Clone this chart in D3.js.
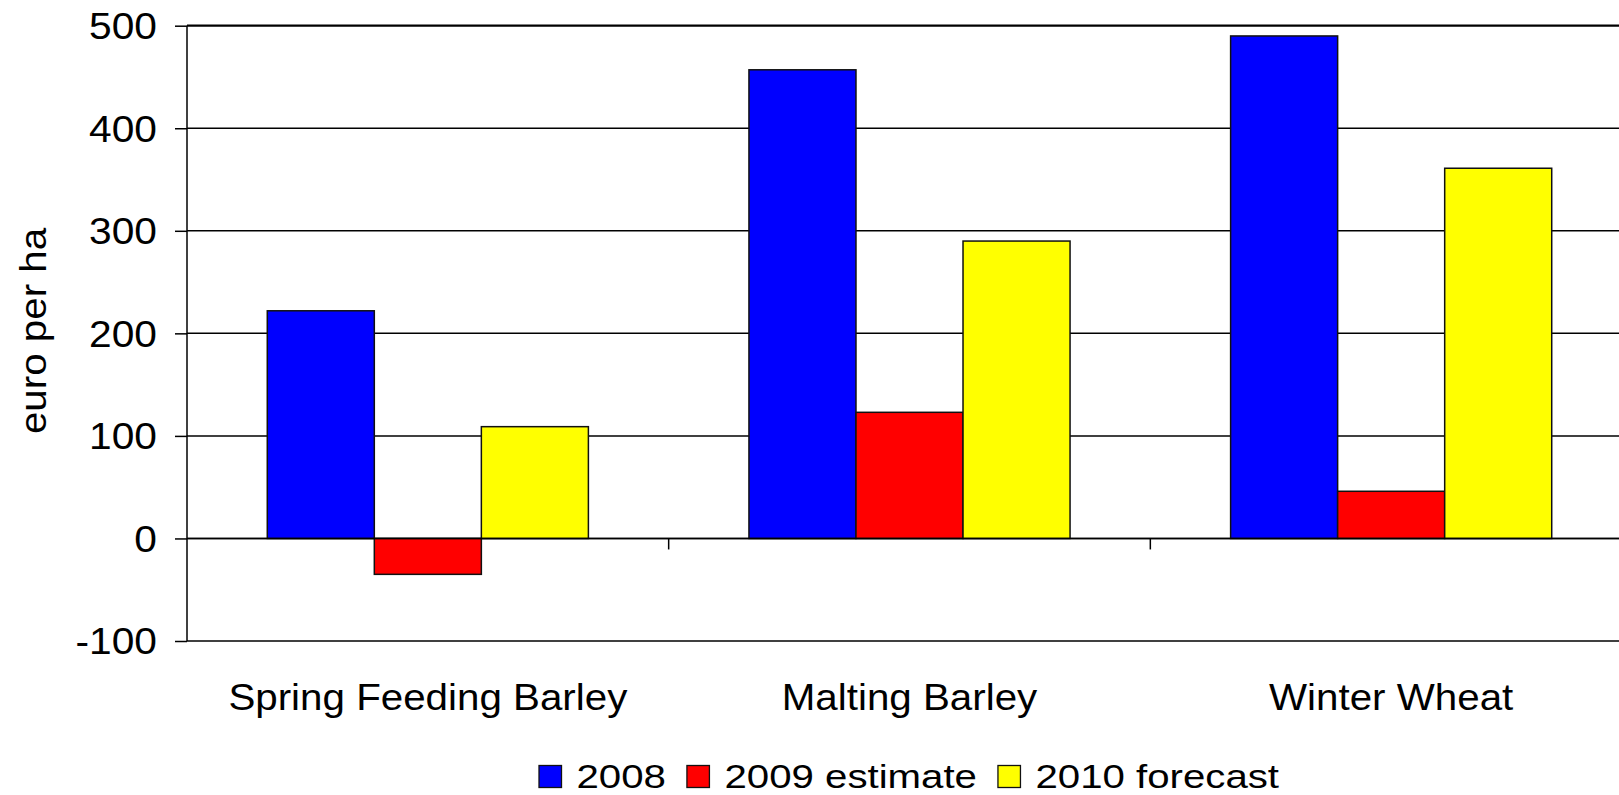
<!DOCTYPE html>
<html>
<head>
<meta charset="utf-8">
<script src="https://cdn.jsdelivr.net/npm/d3@7"></script>
<style>
  html, body { margin: 0; padding: 0; background: #fff; }
  svg { display: block; font-family: "Liberation Sans", Arial, sans-serif; }
</style>
</head>
<body>
<svg id="chart" width="1619" height="795"></svg>
<script>
// Gross margins by crop, euro per hectare
const categories = ["Spring Feeding Barley", "Malting Barley", "Winter Wheat"];
const seriesNames = ["2008", "2009 estimate", "2010 forecast"];
const values2008 = [222, 457, 490];
const values2009 = [-35, 123, 46];
const values2010 = [109, 290, 361];
const yTicks = [-100, 0, 100, 200, 300, 400, 500];
const seriesColors = ["#0000ff", "#ff0000", "#ffff00"];

const seriesValues = [values2008, values2009, values2010];

(function draw() {
  const svg = d3.select("#chart");
  const W = 1619;

  // plot area (right edge runs past the canvas)
  const plotLeft = 187, plotRight = 1632, plotTop = 25.7, plotBottom = 641;

  const x = d3.scaleBand()
    .domain(categories)
    .range([plotLeft, plotRight])
    .paddingInner(1 / 3)
    .paddingOuter(1 / 6);

  const xs = d3.scaleBand()
    .domain(seriesNames)
    .range([0, x.bandwidth()])
    .padding(0);

  const y = d3.scaleLinear().domain([-100, 500]).range([plotBottom, plotTop]);

  // horizontal gridlines
  svg.append("g").selectAll("line")
    .data(yTicks)
    .join("line")
    .attr("x1", plotLeft).attr("x2", W)
    .attr("y1", d => y(d)).attr("y2", d => y(d))
    .attr("stroke", "#000")
    .attr("stroke-width", d => d === 500 ? 2.2 : 1.5);

  // bars
  const rows = categories.map((c, i) => ({
    category: c,
    items: seriesNames.map((s, j) => ({ series: s, value: seriesValues[j][i], color: seriesColors[j] }))
  }));

  svg.append("g").selectAll("g")
    .data(rows)
    .join("g")
    .attr("transform", d => `translate(${x(d.category)},0)`)
    .selectAll("rect")
    .data(d => d.items)
    .join("rect")
    .attr("x", d => xs(d.series))
    .attr("width", xs.bandwidth())
    .attr("y", d => y(Math.max(0, d.value)))
    .attr("height", d => Math.abs(y(d.value) - y(0)))
    .attr("fill", d => d.color)
    .attr("stroke", "#111")
    .attr("stroke-width", 1.5);

  // category axis on the zero line, ticks between categories
  const xAxis = svg.append("g");
  xAxis.append("line")
    .attr("x1", plotLeft).attr("x2", W)
    .attr("y1", y(0)).attr("y2", y(0))
    .attr("stroke", "#000").attr("stroke-width", 1.5);
  const gapHalf = (x.step() - x.bandwidth()) / 2;
  xAxis.selectAll("line.tick")
    .data(categories.slice(1))
    .join("line")
    .attr("class", "tick")
    .attr("x1", c => x(c) - gapHalf)
    .attr("x2", c => x(c) - gapHalf)
    .attr("y1", y(0)).attr("y2", y(0) + 11)
    .attr("stroke", "#000").attr("stroke-width", 1.5);

  // category labels
  svg.append("g").selectAll("text")
    .data(categories)
    .join("text")
    .attr("transform", d => `translate(${x(d) + x.bandwidth() / 2},710) scale(1.09,1)`)
    .attr("text-anchor", "middle")
    .attr("font-size", 37)
    .attr("fill", "#000")
    .text(d => d);

  // value axis
  const yAxis = d3.axisLeft(y).tickValues(yTicks).tickSize(12).tickFormat(d => String(d));
  const yg = svg.append("g").attr("transform", `translate(${plotLeft},0)`).call(yAxis);
  yg.select(".domain").attr("stroke", "#000").attr("stroke-width", 1.5)
    .attr("d", `M0,${plotTop}V${plotBottom}`);
  yg.selectAll(".tick line").attr("stroke", "#000").attr("stroke-width", 1.5);
  yg.selectAll(".tick text")
    .attr("x", null).attr("dy", null)
    .attr("font-family", "\"Liberation Sans\", Arial, sans-serif")
    .attr("font-size", 37)
    .attr("fill", "#000")
    .attr("text-anchor", "end")
    .attr("dominant-baseline", "central")
    .attr("transform", "translate(-30,0) scale(1.1,1)");

  // axis title
  svg.append("text")
    .attr("transform", "translate(46,331) rotate(-90) scale(1.09,1)")
    .attr("text-anchor", "middle")
    .attr("font-size", 37)
    .attr("fill", "#000")
    .text("euro per ha");

  // legend
  const legend = svg.append("g");
  let lx = 539;
  seriesNames.forEach((name, i) => {
    legend.append("rect")
      .attr("x", lx).attr("y", 765.5)
      .attr("width", 22.5).attr("height", 22)
      .attr("fill", seriesColors[i])
      .attr("stroke", "#111").attr("stroke-width", 1.3);
    const t = legend.append("text")
      .attr("transform", `translate(${lx + 37.5},788) scale(1.2,1)`)
      .attr("font-size", 33.5)
      .attr("fill", "#000")
      .text(name);
    const w = t.node().getComputedTextLength() * 1.2;
    lx += 37.5 + w + 21;
  });
})();
</script>
</body>
</html>
